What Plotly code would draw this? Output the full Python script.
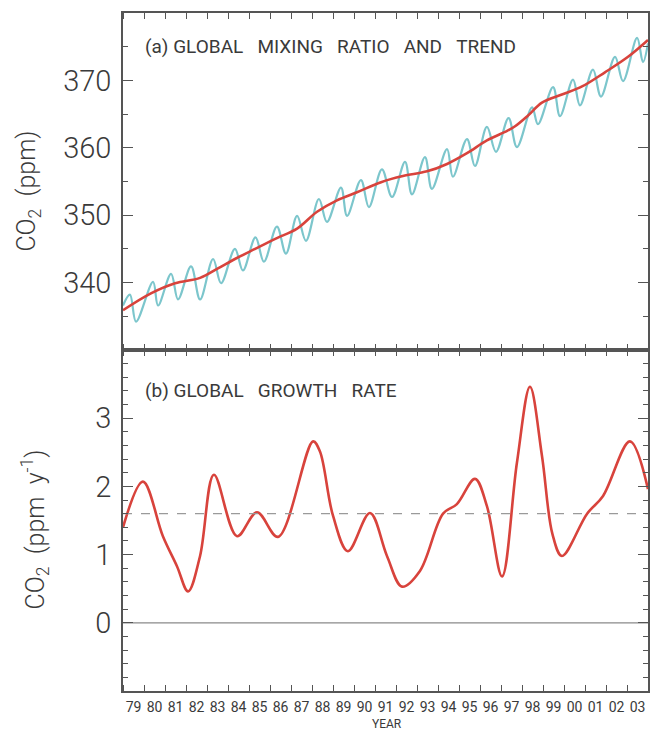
import plotly.graph_objects as go

# ---------------- data ----------------
# Panel (a): global CO2 mixing ratio (seasonal extrema) and de-seasonalised trend
seasonal_years = [1979.0, 1979.33, 1979.62, 1980.43, 1980.67, 1981.29, 1981.62, 1982.24, 1982.67,
                  1983.29, 1983.67, 1984.33, 1984.71, 1985.31, 1985.71, 1986.33, 1986.76, 1987.29,
                  1987.71, 1988.33, 1988.71, 1989.38, 1989.67, 1990.33, 1990.71, 1991.33, 1991.81,
                  1992.43, 1992.76, 1993.38, 1993.71, 1994.43, 1994.71, 1995.38, 1995.76, 1996.33,
                  1996.76, 1997.36, 1997.76, 1998.48, 1998.76, 1999.48, 1999.81, 2000.43, 2000.76,
                  2001.38, 2001.76, 2002.43, 2002.81, 2003.48, 2003.76, 2004.0]
seasonal_co2 = [336.6, 338.2, 334.2, 340.1, 336.6, 341.3, 337.5, 342.4, 337.5,
                343.5, 339.9, 345.0, 341.8, 346.7, 343.1, 348.3, 344.3, 349.9,
                346.2, 352.4, 349.0, 354.1, 349.9, 355.2, 351.2, 356.8, 352.7,
                357.9, 353.1, 358.6, 353.9, 359.8, 355.7, 361.3, 357.3, 363.1,
                359.4, 364.4, 360.1, 366.0, 363.5, 369.0, 364.7, 370.1, 366.3,
                371.6, 367.6, 373.5, 369.9, 376.3, 372.7, 375.5]

trend_years = [1979.0, 1980.33, 1981.48, 1982.67, 1983.52, 1984.33, 1985.29, 1986.33, 1987.29,
               1988.24, 1989.19, 1990.14, 1991.29, 1992.33, 1993.48, 1994.43, 1995.38, 1996.33,
               1997.29, 1997.67, 1998.29, 1998.95, 1999.9, 2000.86, 2001.95, 2003.05, 2004.0]
trend_co2 = [335.9, 338.4, 339.9, 340.7, 342.1, 343.5, 345.0, 346.6, 348.0,
             350.5, 352.2, 353.4, 354.9, 355.8, 356.5, 357.6, 359.2, 361.1,
             362.5, 363.2, 364.8, 366.7, 367.9, 369.1, 371.2, 373.5, 376.0]

# Panel (b): global growth rate
growth_years = [1979.0, 1979.95, 1980.9, 1981.57, 1982.1, 1982.67, 1983.33, 1984.43, 1985.38,
                1986.38, 1988.05, 1988.38, 1989.0, 1989.71, 1990.76, 1991.57, 1992.29, 1993.14,
                1994.24, 1994.9, 1995.76, 1996.33, 1997.05, 1997.76, 1998.38, 1998.95, 1999.45,
                1999.9, 2001.1, 2001.86, 2003.14, 2004.0]
growth_rate = [1.40, 2.07, 1.27, 0.83, 0.46, 0.98, 2.17, 1.27, 1.62,
               1.26, 2.66, 2.51, 1.57, 1.05, 1.61, 0.98, 0.53, 0.76,
               1.60, 1.74, 2.11, 1.71, 0.68, 2.35, 3.46, 2.45, 1.30,
               0.98, 1.60, 1.86, 2.66, 1.96]
mean_growth = 1.6

year_ticks = list(range(1979, 2004))
year_labels = [f"{y % 100:02d}" for y in year_ticks]

# ---------------- styling ----------------
RED = "#D8433C"
CYAN = "#7CC6CC"
AXC = "#555555"
TXT = "#3a3a3a"
FONT = "Roboto"
SP = "\u00a0\u00a0\u00a0"

fig = go.Figure()
fig.add_trace(go.Scatter(x=seasonal_years, y=seasonal_co2, mode="lines",
                         line=dict(color=CYAN, width=2.2, shape="spline", smoothing=1.0),
                         xaxis="x2", yaxis="y2", showlegend=False, hoverinfo="skip"))
fig.add_trace(go.Scatter(x=trend_years, y=trend_co2, mode="lines",
                         line=dict(color=RED, width=2.6, shape="spline", smoothing=1.0),
                         xaxis="x2", yaxis="y2", showlegend=False))
fig.add_trace(go.Scatter(x=growth_years, y=growth_rate, mode="lines",
                         line=dict(color=RED, width=2.6, shape="spline", smoothing=1.0),
                         xaxis="x", yaxis="y", showlegend=False))

# reference lines in panel (b)
fig.add_trace(go.Scatter(x=[year_ticks[0], year_ticks[-1] + 1], y=[mean_growth, mean_growth],
                         mode="lines", line=dict(color="#9a9a9a", width=1.2, dash="dash"),
                         xaxis="x", yaxis="y", showlegend=False, hoverinfo="skip"))
fig.add_trace(go.Scatter(x=[year_ticks[0], year_ticks[-1] + 1], y=[0, 0],
                         mode="lines", line=dict(color="#8a8a8a", width=1.2),
                         xaxis="x", yaxis="y", showlegend=False, hoverinfo="skip"))

mid_ticks = [y + 0.5 for y in year_ticks]
xcommon = dict(range=[1979, 2004], showline=True, linecolor=AXC, linewidth=1.6, mirror="allticks",
               showgrid=False, zeroline=False, tickvals=mid_ticks, ticktext=year_labels, ticks="",
               minor=dict(dtick=1, tick0=1979, ticks="inside", ticklen=6, tickcolor=AXC, tickwidth=1.2,
                          showgrid=False))

ycommon = dict(showline=True, linecolor=AXC, linewidth=1.6, mirror="allticks", showgrid=False,
               zeroline=False, ticks="inside", ticklen=10, tickcolor=AXC, tickwidth=1.3,
               tickfont=dict(family=FONT, size=29, color=TXT, weight=300), ticklabelstandoff=4)

fig.update_layout(
    width=652, height=731,
    margin=dict(l=123, r=4, t=13, b=40, autoexpand=False),
    paper_bgcolor="white", plot_bgcolor="white",
    xaxis=dict(**xcommon, domain=[0, 1], anchor="y",
               tickfont=dict(family=FONT, size=14, color=TXT), ticklabelstandoff=2),
    xaxis2=dict(**xcommon, domain=[0, 1], anchor="y2", matches="x", showticklabels=False),
    yaxis=dict(**ycommon, domain=[0, 0.503], anchor="x", range=[-1, 4], tickvals=[0, 1, 2, 3],
               minor=dict(dtick=0.2, tick0=-1, ticks="inside", ticklen=5, tickcolor=AXC, tickwidth=1.1)),
    yaxis2=dict(**ycommon, domain=[0.503, 1], anchor="x2", range=[330, 380],
                tickvals=[340, 350, 360, 370],
                minor=dict(dtick=5, tick0=330, ticks="inside", ticklen=5, tickcolor=AXC, tickwidth=1.1)),
    annotations=[
        dict(text=f"(a) GLOBAL{SP}MIXING{SP}RATIO{SP}AND{SP}TREND", x=1979.95, y=375,
             xref="x2", yref="y2", xanchor="left", yanchor="middle", showarrow=False,
             font=dict(family=FONT, size=19, color=TXT)),
        dict(text=f"(b) GLOBAL{SP}GROWTH{SP}RATE", x=1979.95, y=3.4,
             xref="x", yref="y", xanchor="left", yanchor="middle", showarrow=False,
             font=dict(family=FONT, size=19, color=TXT)),
        dict(text="CO<sub>2</sub>\u00a0 (ppm)", x=-0.181, y=0.738, xref="paper", yref="paper",
             xanchor="center", yanchor="middle", textangle=-90, showarrow=False,
             font=dict(family=FONT, size=25, color=TXT, weight=300)),
        dict(text="CO<sub>2</sub>\u00a0 (ppm\u00a0 y<sup>-1</sup>)", x=-0.168, y=0.238,
             xref="paper", yref="paper",
             xanchor="center", yanchor="middle", textangle=-90, showarrow=False,
             font=dict(family=FONT, size=25, color=TXT, weight=300)),
        dict(text="YEAR", x=0.503, y=-0.049, xref="paper", yref="paper",
             xanchor="center", yanchor="middle", showarrow=False,
             font=dict(family=FONT, size=12, color=TXT)),
    ],
)

fig.write_html("out.html", config={"displayModeBar": False},
               post_script="document.body.style.margin='0px';")
